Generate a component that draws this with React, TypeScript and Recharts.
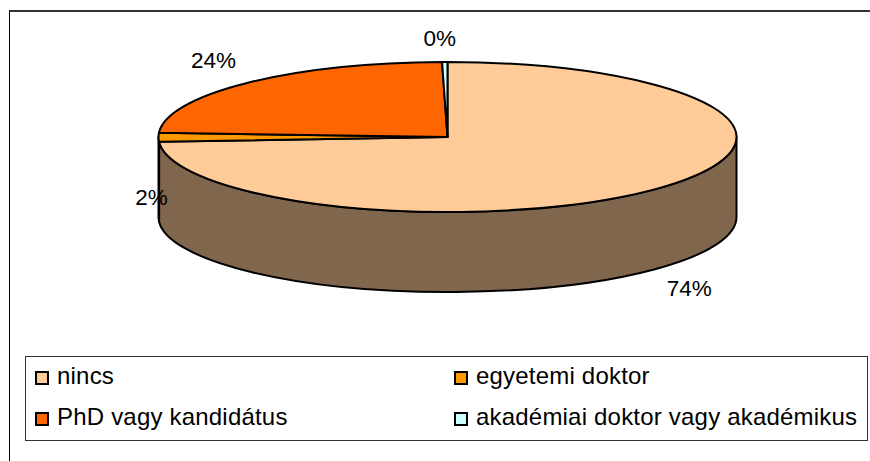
import { PieChart, Pie, Legend } from "recharts";

const categories = ["nincs", "egyetemi doktor", "PhD vagy kandidátus", "akadémiai doktor vagy akadémikus"];
const shares = [74.0, 1.9, 23.8, 0.3];
const percentLabels = ["74%", "2%", "24%", "0%"];
const colors = ["#FFCC99", "#FF9900", "#FF6600", "#CCFFFF"];
const wallColors = ["#80664D", "#804D00", "#803300", "#668080"];

// label offset from the rim point of the slice's mid angle
const labelOffsets = [
  [31, 100],
  [-7, 60],
  [-33.5, -22],
  [-5, -24],
];

const FONT = "Liberation Sans, Arial, sans-serif";
const SQUASH = 75 / 289;
const DEPTH = 80;

const tableData = categories.map((name, i) => ({ name, value: shares[i], fill: colors[i] }));

// recharts angles: 90 = top, going clockwise means decreasing
function rim(cx: number, cy: number, r: number, deg: number) {
  const a = (deg * Math.PI) / 180;
  return [cx + r * Math.cos(a), cy - r * SQUASH * Math.sin(a)];
}

function arcPath(cx: number, cy: number, r: number, from: number, to: number, dy = 0) {
  const [x, y] = rim(cx, cy, r, to);
  const large = Math.abs(to - from) > 180 ? 1 : 0;
  const sweep = to < from ? 1 : 0;
  return `A ${r} ${r * SQUASH} 0 ${large} ${sweep} ${x} ${y + dy}`;
}

function EllipseSlice(props: any) {
  const { cx, cy, outerRadius: r, startAngle, endAngle, fill, index } = props;
  const [sx, sy] = rim(cx, cy, r, startAngle);
  const top = `M ${cx} ${cy} L ${sx} ${sy} ${arcPath(cx, cy, r, startAngle, endAngle)} Z`;

  // only the front half of the rim (0 .. -180) gets a wall
  const from = Math.min(startAngle, 0);
  const to = Math.max(endAngle, -180);
  let wall = null;
  if (from > to) {
    const [ax, ay] = rim(cx, cy, r, from);
    const [bx, by] = rim(cx, cy, r, to);
    wall = (
      <path
        d={`M ${ax} ${ay} ${arcPath(cx, cy, r, from, to)} L ${bx} ${by + DEPTH} ${arcPath(cx, cy, r, to, from, DEPTH)} Z`}
        fill={wallColors[index ?? 0]}
        stroke="#000"
        strokeWidth={2}
        strokeLinejoin="round"
      />
    );
  }
  return (
    <g>
      {wall}
      <path d={top} fill={fill} stroke="#000" strokeWidth={2} strokeLinejoin="round" />
    </g>
  );
}

function SliceLabel(props: any) {
  const { cx, cy, outerRadius: r, midAngle, index } = props;
  const [x, y] = rim(cx, cy, r, midAngle);
  const [dx, dy] = labelOffsets[index];
  return (
    <text x={x + dx} y={y + dy} textAnchor="middle" dominantBaseline="central" fontFamily={FONT} fontSize={22.5} fill="#000">
      {percentLabels[index]}
    </text>
  );
}

function ChartLegend({ payload }: any) {
  return (
    <div
      style={{
        boxSizing: "border-box",
        width: 843,
        height: 85,
        border: "1.5px solid #333",
        background: "#fff",
        display: "grid",
        gridTemplateColumns: "419px 1fr",
        gridTemplateRows: "41px 41px",
        fontFamily: FONT,
        fontSize: 24,
        letterSpacing: 0.2,
        color: "#000",
      }}
    >
      {(payload ?? []).map((entry: any) => (
        <div key={entry.value} style={{ display: "flex", alignItems: "center", paddingLeft: 9, whiteSpace: "nowrap" }}>
          <span
            style={{
              boxSizing: "border-box",
              width: 14,
              height: 14,
              border: "2px solid #000",
              background: entry.color,
              marginRight: 8,
            }}
          />
          <span style={{ position: "relative", top: -1.5 }}>{entry.value}</span>
        </div>
      ))}
    </div>
  );
}

export default function App() {
  return (
    <div style={{ position: "absolute", left: 0, top: 0, width: 870, height: 461, overflow: "hidden", background: "#fff" }}>
      <div
        style={{
          position: "absolute",
          left: 9,
          top: 10,
          width: 870,
          height: 460,
          borderLeft: "1.5px solid #000",
          borderTop: "2px solid #333",
        }}
      />
      <div style={{ position: "absolute", left: 0, top: 0 }}>
        <PieChart width={870} height={461} margin={{ top: 0, right: 0, bottom: 0, left: 0 }}>
          <Pie
            data={tableData}
            dataKey="value"
            nameKey="name"
            cx={447.5}
            cy={137}
            innerRadius={0}
            outerRadius={289}
            startAngle={90}
            endAngle={-270}
            stroke="#000"
            shape={EllipseSlice}
            label={SliceLabel}
            labelLine={false}
            isAnimationActive={false}
          />
          <Legend
            content={<ChartLegend />}
            itemSorter={null}
            layout="horizontal"
            align="left"
            verticalAlign="bottom"
            wrapperStyle={{ left: 25, top: 356, bottom: "auto", width: 843 }}
          />
        </PieChart>
      </div>
    </div>
  );
}
